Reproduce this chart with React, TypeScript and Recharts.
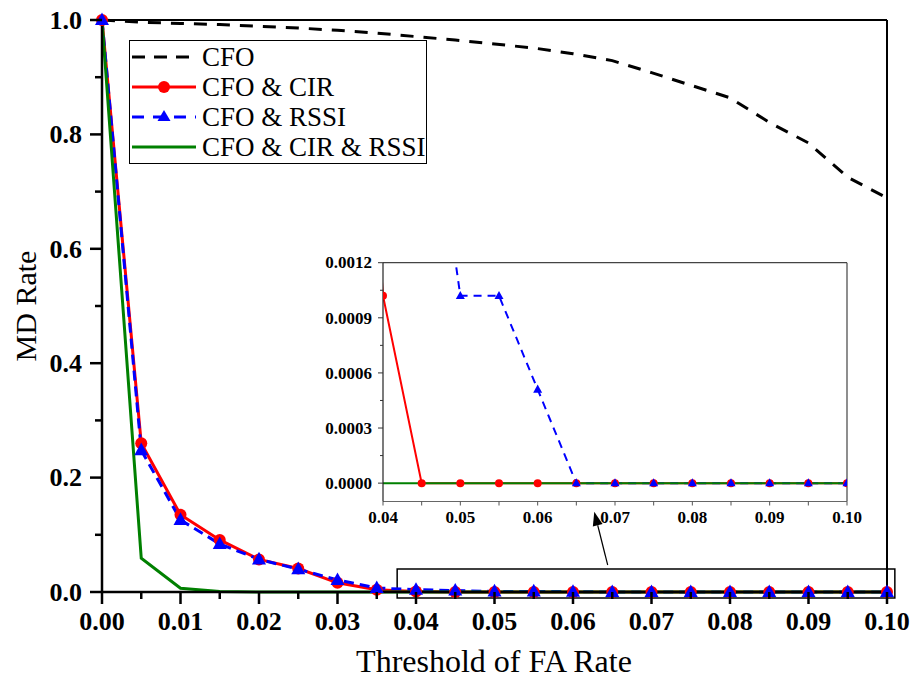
import React from "react";
import { LineChart, Line, XAxis, YAxis, ReferenceLine, ReferenceArea, Legend } from "recharts";

const FONT = "'Liberation Serif', 'Times New Roman', serif";

// threshold of FA rate
const faRate = [
  0, 0.005, 0.01, 0.015, 0.02, 0.025, 0.03, 0.035, 0.04, 0.045, 0.05,
  0.055, 0.06, 0.065, 0.07, 0.075, 0.08, 0.085, 0.09, 0.095, 0.1,
];
// MD rate, one list per detector
const cfo = [
  1.0, 0.996, 0.994, 0.992, 0.989, 0.986, 0.982, 0.977, 0.971, 0.965, 0.958,
  0.951, 0.941, 0.929, 0.908, 0.886, 0.864, 0.821, 0.785, 0.725, 0.689,
];
const cfoCir = [
  1.0, 0.26, 0.135, 0.091, 0.057, 0.041, 0.016, 0.004, 0.00102, 0, 0,
  0, 0, 0, 0, 0, 0, 0, 0, 0, 0,
];
const cfoRssi = [
  1.0, 0.248, 0.126, 0.084, 0.057, 0.04, 0.021, 0.007, 0.004, 0.0025, 0.00102,
  0.00102, 0.00051, 0, 0, 0, 0, 0, 0, 0, 0,
];
const cfoCirRssi = [
  1.0, 0.059, 0.0065, 0.001, 0, 0, 0, 0, 0, 0, 0,
  0, 0, 0, 0, 0, 0, 0, 0, 0, 0,
];

const mainYTicks = [0, 0.1, 0.2, 0.3, 0.4, 0.5, 0.6, 0.7, 0.8, 0.9, 1.0];
const insetXTicks = [0.04, 0.045, 0.05, 0.055, 0.06, 0.065, 0.07, 0.075, 0.08, 0.085, 0.09, 0.095, 0.1];
const insetYTicks = [0, 0.00015, 0.0003, 0.00045, 0.0006, 0.00075, 0.0009, 0.00105, 0.0012];

const data = faRate.map((x, i) => ({
  x,
  cfo: cfo[i],
  cir: cfoCir[i],
  rssi: cfoRssi[i],
  all: cfoCirRssi[i],
}));

const RED = "#ff0000";
const BLUE = "#0000ff";
const GREEN = "#008000";

function MainXTick({ x, y, payload }: any) {
  const v = payload.value;
  const major = Math.round(v * 1000) % 10 === 0;
  return (
    <g>
      <line x1={x} y1={y} x2={x} y2={y + (major ? 12 : 7)} stroke="#000" strokeWidth={2.5} />
      {major && (
        <text x={x} y={y + 38} textAnchor="middle" fontFamily={FONT} fontWeight="bold" fontSize={26} fill="#000">
          {v.toFixed(2)}
        </text>
      )}
    </g>
  );
}

function MainYTick({ x, y, payload }: any) {
  const v = payload.value;
  const major = Math.round(v * 10) % 2 === 0;
  return (
    <g>
      <line x1={x} y1={y} x2={x - (major ? 12 : 7)} y2={y} stroke="#000" strokeWidth={2.5} />
      {major && (
        <text x={x - 20} y={y} dy="0.34em" textAnchor="end" fontFamily={FONT} fontWeight="bold" fontSize={26} fill="#000">
          {v.toFixed(1)}
        </text>
      )}
    </g>
  );
}

function InsetXTick({ x, y, payload }: any) {
  const v = payload.value;
  const major = Math.round(v * 1000) % 10 === 0;
  return (
    <g>
      <line x1={x} y1={y} x2={x} y2={y + 4} stroke="#555" strokeWidth={1} />
      {major && (
        <text x={x} y={y + 21} textAnchor="middle" fontFamily={FONT} fontWeight="bold" fontSize={17} fill="#000">
          {v.toFixed(2)}
        </text>
      )}
    </g>
  );
}

function InsetYTick({ x, y, payload }: any) {
  const v = payload.value;
  const major = Math.round(v * 100000) % 30 === 0;
  return (
    <g>
      <line x1={x} y1={y} x2={x - (major ? 5 : 3)} y2={y} stroke="#333" strokeWidth={1} />
      {major && (
        <text x={x - 11} y={y} dy="0.34em" textAnchor="end" fontFamily={FONT} fontWeight="bold" fontSize={17} fill="#000">
          {v.toFixed(4)}
        </text>
      )}
    </g>
  );
}

const triangleDot = (size: number) => (p: any) => {
  const { cx, cy, index } = p;
  if (cx == null || cy == null) return <g key={`t-${index}`} />;
  const h = size * 0.9;
  return (
    <path
      key={`t-${index}`}
      d={`M${cx},${cy - h * 0.6} L${cx + size / 2},${cy + h * 0.4} L${cx - size / 2},${cy + h * 0.4} Z`}
      fill={BLUE}
    />
  );
};

function Arrow(p: any) {
  const { x1, y1, x2, y2 } = p;
  const ang = Math.atan2(y2 - y1, x2 - x1);
  const L = 14;
  const W = 5;
  const bx = x2 - L * Math.cos(ang);
  const by = y2 - L * Math.sin(ang);
  const px = -Math.sin(ang) * W;
  const py = Math.cos(ang) * W;
  return (
    <g>
      <line x1={x1} y1={y1} x2={bx} y2={by} stroke="#000" strokeWidth={1.2} />
      <polygon points={`${x2},${y2} ${bx + px},${by + py} ${bx - px},${by - py}`} fill="#000" />
    </g>
  );
}

const legendRows = [
  { label: "CFO", color: "#000", dash: "13 9", marker: "none" },
  { label: "CFO & CIR", color: RED, dash: undefined, marker: "circle" },
  { label: "CFO & RSSI", color: BLUE, dash: "12 9", marker: "triangle" },
  { label: "CFO & CIR & RSSI", color: GREEN, dash: undefined, marker: "none" },
];

function LegendBox() {
  return (
    <div
      style={{
        border: "1px solid #000",
        background: "#fff",
        width: 298,
        height: 124,
        boxSizing: "border-box",
        paddingTop: 1,
      }}
    >
      {legendRows.map((r) => (
        <div key={r.label} style={{ display: "flex", alignItems: "center", height: 30 }}>
          <svg width={70} height={30} style={{ display: "block" }}>
            <line x1={2} y1={15} x2={66} y2={15} stroke={r.color} strokeWidth={3} strokeDasharray={r.dash} />
            {r.marker === "circle" && <circle cx={34} cy={15} r={6} fill={r.color} />}
            {r.marker === "triangle" && <path d="M34,8 L40.5,19 L27.5,19 Z" fill={r.color} />}
          </svg>
          <span style={{ fontFamily: FONT, fontSize: 27, lineHeight: "30px", whiteSpace: "nowrap", marginLeft: 2 }}>
            {r.label}
          </span>
        </div>
      ))}
    </div>
  );
}

export default function App() {
  return (
    <div style={{ position: "absolute", left: 0, top: 0, width: 913, height: 679, background: "#fff" }}>
      <LineChart width={913} height={679} data={data} margin={{ top: 20, right: 26, left: 0, bottom: 0 }}>
        <XAxis
          dataKey="x"
          type="number"
          domain={[0, 0.1]}
          ticks={faRate}
          interval={0}
          height={87}
          tickSize={0}
          tickMargin={0}
          axisLine={{ stroke: "#000", strokeWidth: 2.5 }}
          tick={<MainXTick />}
          label={{
            content: () => (
              <text x={494} y={672} textAnchor="middle" fontFamily={FONT} fontSize={32} fill="#000">
                Threshold of FA Rate
              </text>
            ),
          }}
        />
        <YAxis
          type="number"
          domain={[0, 1]}
          ticks={mainYTicks}
          interval={0}
          width={102}
          tickSize={0}
          tickMargin={0}
          axisLine={{ stroke: "#000", strokeWidth: 2.5 }}
          tick={<MainYTick />}
          label={{
            content: () => (
              <text
                x={25}
                y={306}
                transform="rotate(-90 25 306)"
                textAnchor="middle"
                dominantBaseline="central"
                fontFamily={FONT}
                fontSize={30}
                fill="#000"
              >
                MD Rate
              </text>
            ),
          }}
        />
        <ReferenceLine y={1} stroke="#000" strokeWidth={2} />
        <ReferenceLine x={0.1} stroke="#000" strokeWidth={2} />
        <Line dataKey="cfo" stroke="#000" strokeWidth={3} strokeDasharray="13 10" dot={false} isAnimationActive={false} />
        <Line
          dataKey="cir"
          stroke={RED}
          strokeWidth={3}
          dot={{ r: 6, fill: RED, stroke: RED, strokeWidth: 0 }}
          isAnimationActive={false}
        />
        <Line
          dataKey="rssi"
          stroke={BLUE}
          strokeWidth={3}
          strokeDasharray="10 6"
          dot={triangleDot(14)}
          isAnimationActive={false}
        />
        <Line dataKey="all" stroke={GREEN} strokeWidth={3} dot={false} isAnimationActive={false} />
        <ReferenceArea
          x1={0.0376}
          x2={0.101}
          y1={-0.0105}
          y2={0.0402}
          ifOverflow="visible"
          fill="none"
          stroke="#000"
          strokeWidth={1.5}
        />
        <ReferenceLine
          segment={[
            { x: 0.06442, y: 0.0472 },
            { x: 0.06271, y: 0.1404 },
          ]}
          ifOverflow="visible"
          shape={<Arrow />}
        />
        <Legend
          layout="vertical"
          align="center"
          verticalAlign="middle"
          wrapperStyle={{ position: "absolute", left: 129, top: 40, width: 298, height: 124 }}
          content={() => <LegendBox />}
        />
      </LineChart>

      <div style={{ position: "absolute", left: 300, top: 250 }}>
        <LineChart width={600} height={290} data={data} margin={{ top: 12.7, right: 53, left: 0, bottom: 0 }}>
          <XAxis
            dataKey="x"
            type="number"
            domain={[0.04, 0.1]}
            allowDataOverflow
            ticks={insetXTicks}
            interval={0}
            height={38.5}
            tickSize={0}
            tickMargin={0}
            axisLine={{ stroke: "#666", strokeWidth: 1.2 }}
            tick={<InsetXTick />}
          />
          <YAxis
            type="number"
            domain={[-0.0001, 0.0012]}
            allowDataOverflow
            ticks={insetYTicks}
            interval={0}
            width={83}
            tickSize={0}
            tickMargin={0}
            axisLine={{ stroke: "#222", strokeWidth: 1.2 }}
            tick={<InsetYTick />}
          />
          <ReferenceLine y={0.0012} stroke="#444" strokeWidth={1.2} />
          <ReferenceLine x={0.1} stroke="#444" strokeWidth={1.2} />
          <Line
            dataKey="cir"
            stroke={RED}
            strokeWidth={2}
            dot={{ r: 4, fill: RED, stroke: RED, strokeWidth: 0 }}
            isAnimationActive={false}
          />
          <Line
            dataKey="rssi"
            stroke={BLUE}
            strokeWidth={2}
            strokeDasharray="8 6"
            dot={triangleDot(9)}
            isAnimationActive={false}
          />
          <Line dataKey="all" stroke={GREEN} strokeWidth={2} dot={false} isAnimationActive={false} />
        </LineChart>
      </div>
    </div>
  );
}
